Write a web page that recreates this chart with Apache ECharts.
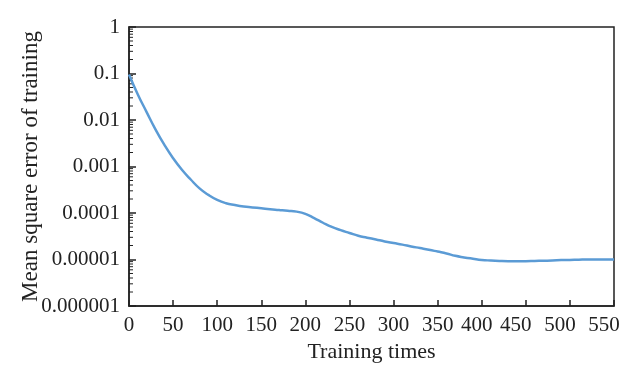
<!DOCTYPE html>
<html>
<head>
<meta charset="utf-8">
<script src="https://cdn.jsdelivr.net/npm/echarts@6/dist/echarts.min.js"></script>
<style>
  html, body { margin: 0; padding: 0; background: #fff; }
  #chart { width: 621px; height: 369px; }
</style>
</head>
<body>
<div id="chart"></div>
<script>
// training iterations
const trainingTimes = [0, 10, 20, 30, 40, 50, 60, 70, 80, 90, 100, 110, 120, 130, 140, 150, 160, 170, 180, 190, 200, 210, 220, 230, 240, 250, 260, 270, 280, 290, 300, 310, 320, 330, 340, 350, 360, 370, 380, 390, 400, 410, 420, 430, 440, 450, 460, 470, 480, 490, 500, 510, 520, 530, 540, 550]
// mean square error
const mse = [0.0955, 0.0355, 0.0148, 0.0063, 0.00295, 0.00151, 0.000851, 0.000525, 0.000339, 0.000245, 0.000191, 0.000162, 0.000148, 0.000138, 0.000132, 0.000126, 0.00012, 0.000116, 0.000112, 0.000107, 0.0000955, 0.0000776, 0.0000617, 0.0000501, 0.0000427, 0.0000372, 0.0000324, 0.0000295, 0.0000269, 0.0000245, 0.0000226, 0.0000209, 0.0000191, 0.0000176, 0.0000162, 0.0000148, 0.0000135, 0.000012, 0.0000111, 0.0000104, 0.0000098, 0.0000095, 0.0000093, 0.0000092, 0.0000092, 0.0000092, 0.0000093, 0.0000094, 0.0000095, 0.0000097, 0.0000098, 0.0000099, 0.00001, 0.00001, 0.00001, 0.00001]
const yTicks = ['1', '0.1', '0.01', '0.001', '0.0001', '0.00001', '0.000001']
// minor log ticks: 2..9 in each decade
const minorTickValues = []
for (let e = -6; e < 0; e++) {
  for (let m = 2; m <= 9; m++) minorTickValues.push(m * Math.pow(10, e))
}

const font = 'Liberation Serif, Times New Roman, serif'
const ink = '#222'
const labelStyle = { fontFamily: font, fontSize: 21, color: ink }

const option = {
  animation: false,
  grid: {
    left: 129,
    right: 7,
    top: 27,
    bottom: 63,
    outerBoundsMode: 'none',
    show: true,
    borderColor: ink,
    borderWidth: 1.5,
  },
  xAxis: {
    type: 'value',
    min: 0,
    max: 550,
    interval: 50,
    name: 'Training times',
    nameLocation: 'middle',
    nameGap: 35,
    nameMoveOverlap: false,
    nameTextStyle: { fontFamily: font, fontSize: 22, color: ink },
    axisLine: { onZero: false, lineStyle: { color: ink, width: 1.5 } },
    axisTick: { show: true, inside: true, length: 6, lineStyle: { color: ink, width: 1.5 } },
    axisLabel: {
      ...labelStyle,
      margin: 9,
      // the right-hand labels sit a little left of their ticks in the original
      formatter: v => (v >= 450 ? `{b|${v}}` : v >= 400 ? `{a|${v}}` : `${v}`),
      rich: {
        a: { ...labelStyle, padding: [0, 10, 0, 0] },
        b: { ...labelStyle, padding: [0, 20, 0, 0] },
      },
    },
    splitLine: { show: false },
  },
  yAxis: {
    type: 'log',
    logBase: 10,
    min: 0.000001,
    max: 1,
    name: 'Mean square error of training',
    nameLocation: 'middle',
    nameGap: 87,
    nameMoveOverlap: false,
    nameTextStyle: { fontFamily: font, fontSize: 23, color: ink },
    axisLine: { onZero: false, lineStyle: { color: ink, width: 1.5 } },
    axisTick: { show: true, inside: true, length: 7, lineStyle: { color: ink, width: 1.5 } },
    axisLabel: {
      ...labelStyle,
      margin: 9,
      formatter: v => yTicks[Math.round(-Math.log10(v))] ?? '',
    },
    splitLine: { show: false },
  },
  series: [
    {
      type: 'line',
      smooth: true,
      showSymbol: false,
      lineStyle: { color: '#5b9bd5', width: 2.5 },
      data: trainingTimes.map((t, i) => [t, mse[i]]),
    },
    {
      // minor ticks of the log axis, placed through the axis scale
      type: 'custom',
      silent: true,
      clip: false,
      data: minorTickValues.map(v => [0, v]),
      renderItem: (params, api) => {
        const p = api.coord([0, api.value(1)])
        return {
          type: 'line',
          shape: { x1: p[0], y1: p[1], x2: p[0] + 4, y2: p[1] },
          style: { stroke: ink, lineWidth: 1 },
        }
      },
    },
  ],
}

const chart = echarts.init(document.getElementById('chart'))
chart.setOption(option)
</script>
</body>
</html>
